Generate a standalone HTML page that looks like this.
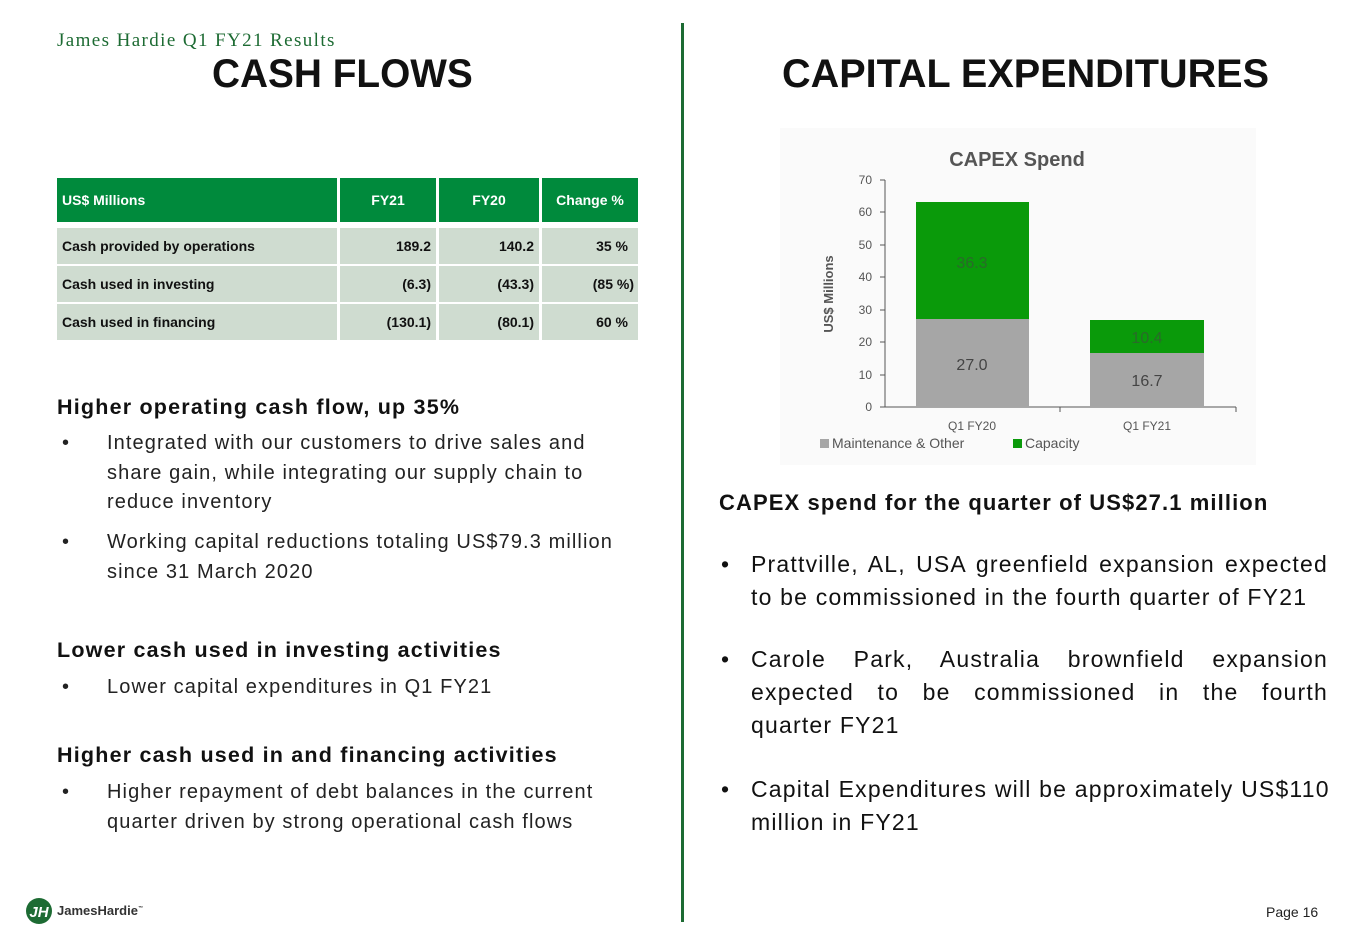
<!DOCTYPE html>
<html><head><meta charset="utf-8"><style>
body{margin:0;width:1365px;height:945px;background:#fff;position:relative;overflow:hidden;font-family:"Liberation Sans",sans-serif;color:#222}
.a{position:absolute;white-space:nowrap}
.t{font-weight:bold;color:#111;font-size:40px;transform-origin:left top}
.c{position:absolute;font-size:14px;font-weight:bold;display:flex;align-items:center;box-sizing:border-box;padding:0 5px}
.h{background:#008a3c;color:#fff}
.r{background:#cfdcd0;color:#111;justify-content:flex-end}
.b{font-size:20px;letter-spacing:1.1px;color:#222;line-height:29.5px}
.hd{font-size:21.5px;font-weight:bold;color:#111;letter-spacing:1.2px}
.p{position:absolute;left:751px;width:577px;font-size:23px;letter-spacing:1.2px;line-height:33px;color:#111}
.p div{text-align:justify;text-align-last:justify;white-space:nowrap}
.p div.l{text-align-last:left}
.dot{position:absolute;left:-30px}
</style></head><body>
<div class="a" style="left:57px;top:30px;font-family:'Liberation Serif',serif;font-size:19px;letter-spacing:1.4px;color:#1d6b33">James Hardie Q1 FY21 Results</div>
<div class="a t" style="left:212px;top:52px;transform:scaleX(0.97)">CASH FLOWS</div>
<div class="a t" style="left:782px;top:52px;transform:scaleX(0.99)">CAPITAL EXPENDITURES</div>
<div class="a" style="left:681px;top:23px;width:3px;height:899px;background:#1d6b33"></div>

<div class="c h" style="left:57px;top:178px;width:280px;height:44px">US$ Millions</div>
<div class="c h" style="left:340px;top:178px;width:96px;height:44px;justify-content:center">FY21</div>
<div class="c h" style="left:439px;top:178px;width:100px;height:44px;justify-content:center">FY20</div>
<div class="c h" style="left:542px;top:178px;width:96px;height:44px;justify-content:center">Change %</div>

<div class="c r" style="left:57px;top:228px;width:280px;height:36px;justify-content:flex-start">Cash provided by operations</div>
<div class="c r" style="left:340px;top:228px;width:96px;height:36px">189.2</div>
<div class="c r" style="left:439px;top:228px;width:100px;height:36px">140.2</div>
<div class="c r" style="left:542px;top:228px;width:96px;height:36px;padding-right:10px">35 %</div>
<div class="c r" style="left:57px;top:266px;width:280px;height:36px;justify-content:flex-start">Cash used in investing</div>
<div class="c r" style="left:340px;top:266px;width:96px;height:36px">(6.3)</div>
<div class="c r" style="left:439px;top:266px;width:100px;height:36px">(43.3)</div>
<div class="c r" style="left:542px;top:266px;width:96px;height:36px;padding-right:4px">(85 %)</div>
<div class="c r" style="left:57px;top:304px;width:280px;height:36px;justify-content:flex-start">Cash used in financing</div>
<div class="c r" style="left:340px;top:304px;width:96px;height:36px">(130.1)</div>
<div class="c r" style="left:439px;top:304px;width:100px;height:36px">(80.1)</div>
<div class="c r" style="left:542px;top:304px;width:96px;height:36px;padding-right:10px">60 %</div>

<div class="a hd" style="left:57px;top:395px">Higher operating cash flow, up 35%</div>
<div class="a b" style="left:62px;top:429px">•</div>
<div class="a b" style="left:107px;top:429px">Integrated with our customers to drive sales and<br>share gain, while integrating our supply chain to<br>reduce inventory</div>
<div class="a b" style="left:62px;top:528px">•</div>
<div class="a b" style="left:107px;top:528px">Working capital reductions totaling US$79.3 million<br>since 31 March 2020</div>
<div class="a hd" style="left:57px;top:638px">Lower cash used in investing activities</div>
<div class="a b" style="left:62px;top:673px">•</div>
<div class="a b" style="left:107px;top:673px">Lower capital expenditures in Q1 FY21</div>
<div class="a hd" style="left:57px;top:743px">Higher cash used in and financing activities</div>
<div class="a b" style="left:62px;top:778px">•</div>
<div class="a b" style="left:107px;top:778px">Higher repayment of debt balances in the current<br>quarter driven by strong operational cash flows</div>

<svg class="a" style="left:780px;top:128px" width="476" height="337" viewBox="780 128 476 337">
<rect x="780" y="128" width="476" height="337" fill="#fafafa"/>
<text x="1017" y="166" font-size="20" font-weight="bold" fill="#555" text-anchor="middle">CAPEX Spend</text>
<g font-size="12" fill="#555" text-anchor="end">
<text x="872" y="411">0</text><text x="872" y="379">10</text><text x="872" y="346">20</text><text x="872" y="314">30</text><text x="872" y="281">40</text><text x="872" y="249">50</text><text x="872" y="216">60</text><text x="872" y="184">70</text></g>
<g stroke="#555"><line x1="885" y1="180" x2="885" y2="407"/><line x1="885" y1="407" x2="1236" y2="407"/>
<line x1="880" y1="180" x2="885" y2="180"/><line x1="880" y1="212" x2="885" y2="212"/><line x1="880" y1="245" x2="885" y2="245"/><line x1="880" y1="277" x2="885" y2="277"/><line x1="880" y1="310" x2="885" y2="310"/><line x1="880" y1="342" x2="885" y2="342"/><line x1="880" y1="375" x2="885" y2="375"/><line x1="880" y1="407" x2="885" y2="407"/>
<line x1="1060" y1="407" x2="1060" y2="412"/><line x1="1236" y1="407" x2="1236" y2="412"/></g>
<text transform="translate(833,294) rotate(-90)" font-size="13" font-weight="bold" fill="#555" text-anchor="middle">US$ Millions</text>
<rect x="916" y="319" width="113" height="88" fill="#a6a6a6"/>
<rect x="916" y="202" width="113" height="117" fill="#0a9a0a"/>
<rect x="1090" y="353" width="114" height="54" fill="#a6a6a6"/>
<rect x="1090" y="320" width="114" height="33" fill="#0a9a0a"/>
<g font-size="16" text-anchor="middle"><text x="972" y="268" fill="#2a6a2a">36.3</text><text x="972" y="370" fill="#444">27.0</text><text x="1147" y="343" fill="#2a6a2a">10.4</text><text x="1147" y="386" fill="#444">16.7</text></g>
<g font-size="12" fill="#555"><text x="972" y="430" text-anchor="middle">Q1 FY20</text><text x="1147" y="430" text-anchor="middle">Q1 FY21</text>
<rect x="820" y="439" width="9" height="9" fill="#a6a6a6"/><text x="832" y="448" font-size="14">Maintenance &amp; Other</text>
<rect x="1013" y="439" width="9" height="9" fill="#0a9a0a"/><text x="1025" y="448" font-size="14">Capacity</text></g>
</svg>

<div class="a hd" style="left:719px;top:490px;font-size:22px;letter-spacing:1.1px">CAPEX spend for the quarter of US$27.1 million</div>
<div class="p" style="top:548px"><span class="dot">•</span><div>Prattville, AL, USA greenfield expansion expected</div><div class="l">to be commissioned in the fourth quarter of FY21</div></div>
<div class="p" style="top:643px"><span class="dot">•</span><div>Carole Park, Australia brownfield expansion</div><div>expected to be commissioned in the fourth</div><div class="l">quarter FY21</div></div>
<div class="p" style="top:773px"><span class="dot">•</span><div>Capital Expenditures will be approximately US$110</div><div class="l">million in FY21</div></div>

<svg class="a" style="left:25px;top:897px" width="28" height="28"><circle cx="14" cy="14" r="13" fill="#1d6b33"/><text x="14" y="20" font-size="15" font-weight="bold" fill="#fff" text-anchor="middle" font-style="italic">JH</text></svg>
<div class="a" style="left:57px;top:903px;font-size:13px;font-weight:bold;color:#333">JamesHardie<sup style="font-size:5px">™</sup></div>
<div class="a" style="left:1266px;top:904px;font-size:14px;color:#222">Page 16</div>
</body></html>
